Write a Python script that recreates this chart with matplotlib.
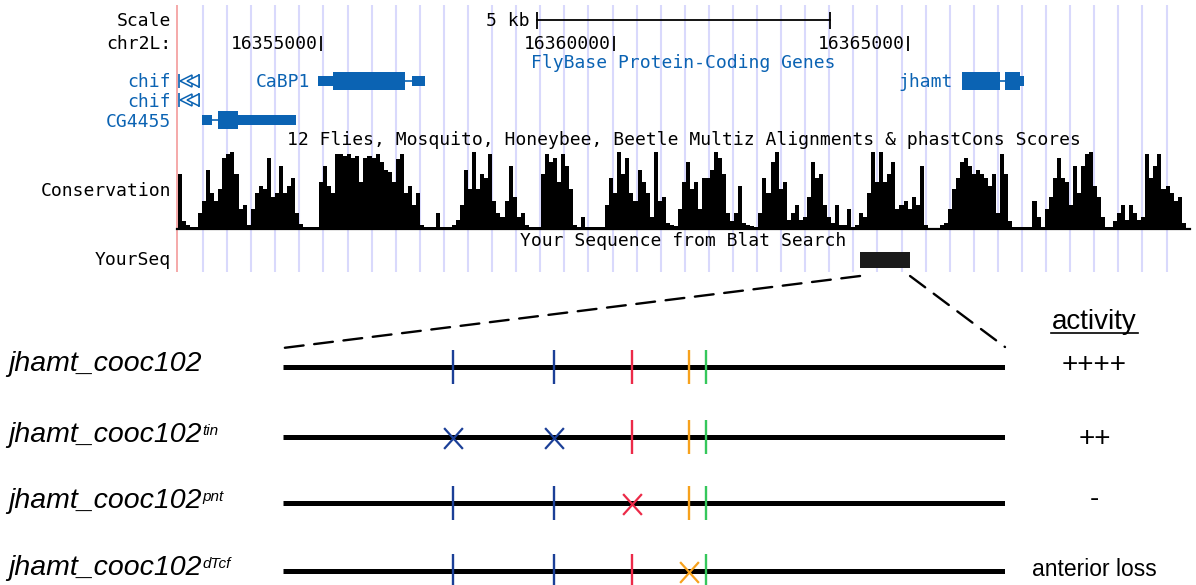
import numpy as np
import matplotlib.pyplot as plt
from matplotlib.patches import Rectangle, ConnectionPatch
from matplotlib.path import Path

W, H = 1196, 585

# ---------------- UCSC browser window, chr2L ----------------
view_start, view_end = 16352557, 16369799
ruler_ticks = [16355000, 16360000, 16365000]
scale_bp = 5000

# FlyBase gene models: (start, end, part)
cabp1 = [(16354957, 16355208, 'utr'), (16355208, 16356438, 'cds'),
         (16356438, 16356552, 'intron'), (16356552, 16356779, 'utr')]
jhamt = [(16365918, 16366565, 'cds'), (16366565, 16366643, 'intron'),
         (16366643, 16366906, 'cds'), (16366906, 16366967, 'utr')]
cg4455 = [(16352978, 16353148, 'utr'), (16353148, 16353261, 'intron'),
          (16353261, 16353601, 'cds'), (16353601, 16354583, 'utr')]
chif_visible = (16352592, 16352932)   # both chif isoforms run off the left edge

yourseq = (16364183, 16365034)        # Blat hit = jhamt_cooc102

# phastCons score per ~69 bp bin
cons_start, cons_step = 16352575, 68.6
conservation = [
    0.7, 0.1, 0.05, 0.03, 0.02, 0.2, 0.35, 0.75, 0.45, 0.35,
    0.5, 0.9, 0.95, 0.97, 0.7, 0.25, 0.3, 0.05, 0.25, 0.45,
    0.55, 0.5, 0.9, 0.4, 0.45, 0.8, 0.45, 0.55, 0.65, 0.2,
    0.06, 0.03, 0.03, 0.02, 0.03, 0.6, 0.8, 0.55, 0.45, 0.95,
    0.95, 0.92, 0.95, 0.9, 0.93, 0.6, 0.9, 0.92, 0.9, 0.95,
    0.85, 0.75, 0.72, 0.6, 0.88, 0.95, 0.45, 0.55, 0.3, 0.45,
    0.05, 0.02, 0.02, 0.03, 0.2, 0.03, 0.02, 0.02, 0.05, 0.12,
    0.3, 0.75, 0.5, 0.97, 0.5, 0.7, 0.65, 0.95, 0.35, 0.2,
    0.15, 0.35, 0.8, 0.4, 0.15, 0.2, 0.05, 0.02, 0.02, 0.03,
    0.7, 0.95, 0.85, 0.9, 0.6, 0.95, 0.8, 0.5, 0.05, 0.02,
    0.15, 0.02, 0.03, 0.02, 0.02, 0.02, 0.3, 0.65, 0.45, 0.97,
    0.7, 0.9, 0.45, 0.35, 0.75, 0.6, 0.45, 0.15, 0.97, 0.35,
    0.4, 0.08, 0.05, 0.04, 0.25, 0.6, 0.85, 0.5, 0.6, 0.25,
    0.65, 0.65, 0.75, 0.97, 0.9, 0.7, 0.2, 0.1, 0.2, 0.55,
    0.08, 0.05, 0.04, 0.02, 0.2, 0.65, 0.45, 0.85, 0.97, 0.5,
    0.6, 0.12, 0.2, 0.3, 0.12, 0.15, 0.4, 0.85, 0.65, 0.7,
    0.3, 0.15, 0.08, 0.3, 0.05, 0.05, 0.25, 0.03, 0.05, 0.2,
    0.15, 0.45, 0.97, 0.6, 0.97, 0.6, 0.7, 0.85, 0.25, 0.3,
    0.35, 0.25, 0.4, 0.3, 0.8, 0.05, 0.0, 0.0, 0.0, 0.05,
    0.08, 0.25, 0.5, 0.65, 0.85, 0.9, 0.8, 0.7, 0.75, 0.7,
    0.65, 0.55, 0.7, 0.2, 0.95, 0.7, 0.1, 0.02, 0.02, 0.02,
    0.02, 0.02, 0.35, 0.15, 0.03, 0.25, 0.4, 0.65, 0.9, 0.65,
    0.6, 0.3, 0.8, 0.45, 0.8, 0.95, 0.97, 0.55, 0.4, 0.15,
    0.03, 0.02, 0.1, 0.2, 0.3, 0.12, 0.3, 0.2, 0.12, 0.15,
    0.95, 0.65, 0.8, 0.95, 0.5, 0.55, 0.45, 0.35, 0.4, 0.08,
]

# ---------------- enhancer constructs ----------------
frag_len = 851
site_pos = [200, 319, 411, 479, 499]
site_tf = ['tin', 'tin', 'pnt', 'dTcf', 'other']
construct_sup = ['', 'tin', 'pnt', 'dTcf']
activity = ['++++', '++', '-', 'anterior loss']

tf_colors = {'tin': '#1b3f97', 'pnt': '#ec2a48', 'dTcf': '#f7a11c', 'other': '#35c75b'}
gene_blue = '#0b63b3'
ucsc = dict(family='DejaVu Sans Mono', fontsize=13)
arial = 'Liberation Sans'

fig = plt.figure(figsize=(W / 100, H / 100), dpi=100)


def px_axes(x0, y0, x1, y1):
    ax = fig.add_axes([x0 / W, 1 - y1 / H, (x1 - x0) / W, (y1 - y0) / H])
    ax.axis('off')
    return ax


ov = px_axes(0, 0, W, H)
ov.set_xlim(0, W)
ov.set_ylim(H, 0)

br = px_axes(177, 0, 1190, 280)
br.set_xlim(view_start, view_end)
br.set_ylim(280, 0)

cons = px_axes(177, 150, 1190, 229)
cons.set_xlim(view_start, view_end)
cons.set_ylim(0, 1)

sch = px_axes(283, 290, 1005, H)
sch.set_xlim(0, frag_len)
sch.set_ylim(H, 290)

# browser background: blue guide lines and red left border
br.vlines(np.arange(16353000, view_end, 410), 5, 272, color='#d9d9fc', lw=1.5, zorder=0)
ov.vlines(177, 5, 272, color='#f4a3a3', lw=1.3)

# scale bar
mid = (view_start + view_end) / 2
sb = [mid - scale_bp / 2, mid + scale_bp / 2]
br.plot(sb, [20, 20], color='black', lw=1.3)
br.vlines(sb, 12, 29, color='black', lw=1.3)
br.annotate('5 kb', xy=(sb[0], 26), xytext=(-7, 0), textcoords='offset pixels',
            ha='right', va='baseline', **ucsc)
ov.text(171, 26, 'Scale', ha='right', va='baseline', **ucsc)

# ruler
ov.text(171, 49, 'chr2L:', ha='right', va='baseline', **ucsc)
br.vlines(ruler_ticks, 36, 51, color='black', lw=1.3)
for t in ruler_ticks:
    br.annotate(str(t), xy=(t, 49), xytext=(-3, 0), textcoords='offset pixels',
                ha='right', va='baseline', **ucsc)

# genes
br.text(mid, 68, 'FlyBase Protein-Coding Genes', ha='center', va='baseline',
        color=gene_blue, **ucsc)


def draw_gene(blocks, y):
    for s, e, part in blocks:
        if part == 'intron':
            br.plot([s, e], [y, y], color=gene_blue, lw=1.2)
        else:
            h = 18 if part == 'cds' else 10
            br.add_patch(Rectangle((s, y - h / 2), e - s, h, color=gene_blue, lw=0))


draw_gene(cabp1, 80.5)
draw_gene(jhamt, 80.5)
draw_gene(cg4455, 120)
br.annotate('CaBP1', xy=(cabp1[0][0], 87), xytext=(-8, 0), textcoords='offset pixels',
            ha='right', va='baseline', color=gene_blue, **ucsc)
br.annotate('jhamt', xy=(jhamt[0][0], 87), xytext=(-9, 0), textcoords='offset pixels',
            ha='right', va='baseline', color=gene_blue, **ucsc)
for y, yb in [(80.5, 87), (100, 107)]:
    s, e = chif_visible
    br.vlines([s, e], y - 7, y + 7, color=gene_blue, lw=1.2)
    br.plot([s + 0.35 * (e - s), s + 0.7 * (e - s)], [y, y], ls='none', marker='<',
            ms=8, mfc='white', mec=gene_blue, mew=1.1)
    ov.text(171, yb, 'chif', ha='right', va='baseline', color=gene_blue, **ucsc)
ov.text(171, 127, 'CG4455', ha='right', va='baseline', color=gene_blue, **ucsc)

# conservation
br.text(mid, 145, '12 Flies, Mosquito, Honeybee, Beetle Multiz Alignments & phastCons Scores',
        ha='center', va='baseline', **ucsc)
xs = cons_start + cons_step * np.arange(len(conservation))
cons.bar(xs, conservation, width=cons_step, align='edge', color='black', lw=0)
cons.axhline(0, color='black', lw=1.6, clip_on=False)
ov.text(171, 196, 'Conservation', ha='right', va='baseline', **ucsc)

# Blat hit
br.text(mid, 246, 'Your Sequence from Blat Search', ha='center', va='baseline', **ucsc)
br.add_patch(Rectangle((yourseq[0], 252), yourseq[1] - yourseq[0], 16, color='#1b1b1b', lw=0))
ov.text(171, 265, 'YourSeq', ha='right', va='baseline', **ucsc)

# ---------------- constructs ----------------
x_marker = Path([(-0.45, -0.5), (0.45, 0.5), (-0.45, 0.5), (0.45, -0.5)],
                [Path.MOVETO, Path.LINETO, Path.MOVETO, Path.LINETO])
row_y = [366.5, 437, 503, 570.5]
label_base = [371, 441.5, 507.5, 575]
act_base = [372, 446.5, 506.5, 576]

for y, yb, ya, sup, act in zip(row_y, label_base, act_base, construct_sup, activity):
    sch.plot([0, frag_len], [y, y], color='black', lw=3.6, solid_capstyle='butt', zorder=2)
    for pos, tf in zip(site_pos, site_tf):
        c = tf_colors[tf]
        if tf == sup:
            sch.plot(pos, y + 1, marker=x_marker, ms=15, mew=1.6, color=c, zorder=3)
        else:
            sch.vlines(pos, y - 17, y + 17, color=c, lw=1.7, zorder=3)
    t = ov.text(8, yb, 'jhamt_cooc102', family=arial, style='italic', fontsize=20.5,
                va='baseline')
    if sup:
        ov.annotate(sup, xy=(1, 1), xycoords=t, xytext=(0.5, -1.5), textcoords='offset points',
                    ha='left', va='top', family=arial, style='italic', fontsize=11)
    ov.text(1094.5, ya, act, ha='center', va='baseline', family=arial,
            fontsize=16.5 if len(act) > 5 else 20)

ov.text(1094.5, 329, 'activity', ha='center', va='baseline', family=arial, fontsize=20)
ov.plot([1051, 1138], [332.5, 332.5], color='black', lw=1.2)

# zoom-out dashes from the Blat hit to the construct
for gx, sx, sy in [(yourseq[0], 0, 348), (yourseq[1], frag_len, 347)]:
    con = ConnectionPatch(xyA=(gx, 276), coordsA=br.transData, xyB=(sx, sy),
                          coordsB=sch.transData, color='black', lw=1.7,
                          linestyle=(0, (8, 4.5)))
    fig.add_artist(con)

fig.savefig('out.png', dpi=100)
